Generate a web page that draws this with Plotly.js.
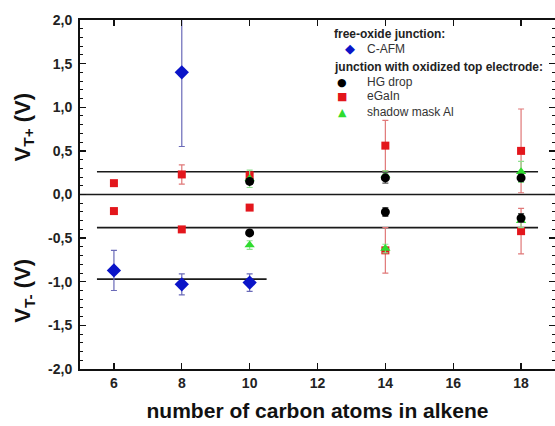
<!DOCTYPE html>
<html>
<head>
<meta charset="utf-8">
<script src="https://cdn.plot.ly/plotly-3.0.1.min.js"></script>
<style>
  html, body { margin: 0; padding: 0; background: #ffffff; }
  #chart { width: 555px; height: 426px; }
</style>
</head>
<body>
<div id="chart"></div>
<script>
// ---- data ----
const cafmX = [8, 6, 8, 10];
const cafmY = [1.40, -0.87, -1.03, -1.01];
const cafmErr = [0.85, 0.23, 0.12, 0.10];

const egainX = [6, 8, 10, 14, 18, 6, 8, 10, 14, 18];
const egainY = [0.13, 0.23, 0.22, 0.56, 0.50, -0.19, -0.40, -0.15, -0.64, -0.42];
const egainErr = [0.02, 0.11, 0.03, 0.29, 0.48, 0.03, 0.03, 0.02, 0.26, 0.26];

const hgX = [10, 14, 18, 10, 14, 18];
const hgY = [0.15, 0.19, 0.19, -0.44, -0.20, -0.27];
const hgErr = [0.03, 0.06, 0.04, 0.03, 0.05, 0.05];

const alX = [10, 14, 18, 10, 14, 18];
const alY = [0.18, 0.22, 0.26, -0.58, -0.62, -0.30];
const alErr = [0.10, 0.05, 0.12, 0.05, 0.05, 0.08];

// reference levels (x start, x end, y level)
const levelZeroX = [5, 19];
const levelZeroY = [0, 0];
const levelUpX = [5.5, 18.5];
const levelUpY = [0.26, 0.26];
const levelDownX = [5.5, 18.5];
const levelDownY = [-0.38, -0.38];
const levelAfmX = [5.5, 10.5];
const levelAfmY = [-0.97, -0.97];

const xTickVals = [6, 8, 10, 12, 14, 16, 18];
const xTickText = ['6', '8', '10', '12', '14', '16', '18'];
const yTickVals = [2, 1.5, 1, 0.5, 0, -0.5, -1, -1.5, -2];
const yTickText = ['2,0', '1,5', '1,0', '0,5', '0,0', '-0,5', '-1,0', '-1,5', '-2,0'];

// legend texts
const groupTitles = ['free-oxide junction:', 'junction with oxidized top electrode:'];
const seriesNames = ['C-AFM', 'HG drop', 'eGaIn', 'shadow mask Al'];

const COL_BLUE = '#0a14c8', COL_RED = '#e3161c', COL_GREEN = '#2fdc2f', COL_BLACK = '#000000';

// ---- traces ----
function levelTrace(x, y) {
  return { x: x, y: y, mode: 'lines', type: 'scatter', showlegend: false,
           hoverinfo: 'skip', line: { color: '#1a1a1a', width: 1.6 } };
}

const traces = [
  levelTrace(levelZeroX, levelZeroY),
  levelTrace(levelUpX, levelUpY),
  levelTrace(levelDownX, levelDownY),
  levelTrace(levelAfmX, levelAfmY),
  {
    x: egainX, y: egainY, name: seriesNames[2], type: 'scatter', mode: 'markers', showlegend: false,
    marker: { symbol: 'square', size: 8, color: COL_RED },
    error_y: { type: 'data', array: egainErr, visible: true, color: '#e07878', thickness: 1.2, width: 3 }
  },
  {
    x: alX, y: alY, name: seriesNames[3], type: 'scatter', mode: 'markers', showlegend: false,
    marker: { symbol: 'triangle-up', size: 9, color: COL_GREEN },
    error_y: { type: 'data', array: alErr, visible: true, color: '#8fe08f', thickness: 1.2, width: 3 }
  },
  {
    x: hgX, y: hgY, name: seriesNames[1], type: 'scatter', mode: 'markers', showlegend: false,
    marker: { symbol: 'circle', size: 9, color: COL_BLACK },
    error_y: { type: 'data', array: hgErr, visible: true, color: '#555555', thickness: 1.2, width: 3 }
  },
  {
    x: cafmX, y: cafmY, name: seriesNames[0], type: 'scatter', mode: 'markers', showlegend: false,
    marker: { symbol: 'diamond', size: 11, color: COL_BLUE },
    error_y: { type: 'data', array: cafmErr, visible: true, color: '#6a6ab8', thickness: 1.2, width: 3 }
  }
];

function ann(text, x, y, xanchor, font, extra) {
  return Object.assign({ text: text, xref: 'paper', yref: 'paper', x: x, y: y,
    xanchor: xanchor, yanchor: 'middle', showarrow: false, font: font }, extra || {});
}
const hdrFont = { size: 12, color: '#222', family: 'Liberation Sans, Arial, sans-serif' };
const itemFont = { size: 12, color: '#333', family: 'Liberation Sans, Arial, sans-serif' };
function glyphFont(c, s) { return { size: s, color: c, family: 'DejaVu Sans, sans-serif' }; }

const annotations = [
  ann('<b>V<sub>T+</sub> (V)</b>', -0.118, 0.695, 'center', { size: 22, color: '#111' }, { textangle: -90 }),
  ann('<b>V<sub>T-</sub> (V)</b>', -0.118, 0.224, 'center', { size: 22, color: '#111' }, { textangle: -90 }),
  // legend
  ann('<b>' + groupTitles[0] + '</b>', 0.5305, 0.960, 'left', hdrFont),
  ann('\u25C6', 0.5684, 0.917, 'center', glyphFont(COL_BLUE, 13)),
  ann(seriesNames[0], 0.600, 0.917, 'left', itemFont),
  ann('<b>' + groupTitles[1] + '</b>', 0.5305, 0.865, 'left', hdrFont),
  ann('\u25CF', 0.5516, 0.822, 'center', glyphFont(COL_BLACK, 11)),
  ann(seriesNames[1], 0.600, 0.822, 'left', itemFont),
  ann('\u25A0', 0.5516, 0.782, 'center', glyphFont(COL_RED, 11)),
  ann(seriesNames[2], 0.600, 0.782, 'left', itemFont),
  ann('\u25B2', 0.5516, 0.736, 'center', glyphFont(COL_GREEN, 11)),
  ann(seriesNames[3], 0.600, 0.736, 'left', itemFont)
];

const tickFont = { size: 14, color: '#222', family: 'Liberation Sans, Arial, sans-serif', weight: 'bold' };

const layout = {
  width: 555, height: 426,
  margin: { l: 80, r: 0, t: 20, b: 57 },
  paper_bgcolor: '#ffffff', plot_bgcolor: '#ffffff',
  font: { family: 'Liberation Sans, Arial, sans-serif', color: '#222' },
  showlegend: false,
  xaxis: {
    range: [5, 19], showgrid: false, zeroline: false,
    showline: true, linecolor: '#111', linewidth: 2, mirror: 'ticks',
    ticks: 'inside', ticklen: 6, tickwidth: 1.3, tickcolor: '#111',
    tickvals: xTickVals, ticktext: xTickText, tickfont: tickFont,
    title: { text: '<b>number of carbon atoms in alkene</b>', font: { size: 21, color: '#111' }, standoff: 14 }
  },
  yaxis: {
    range: [-2, 2], showgrid: false, zeroline: false,
    showline: true, linecolor: '#111', linewidth: 2, mirror: 'ticks',
    ticks: 'inside', ticklen: 6, tickwidth: 1.3, tickcolor: '#111',
    tickvals: yTickVals, ticktext: yTickText, tickfont: tickFont, ticklabelstandoff: 3,
    minor: { dtick: 0.1, tick0: 0, ticks: 'inside', ticklen: 3, tickwidth: 1, tickcolor: '#111' }
  },
  annotations: annotations
};

Plotly.newPlot('chart', traces, layout, { displayModeBar: false, staticPlot: true });
</script>
</body>
</html>
